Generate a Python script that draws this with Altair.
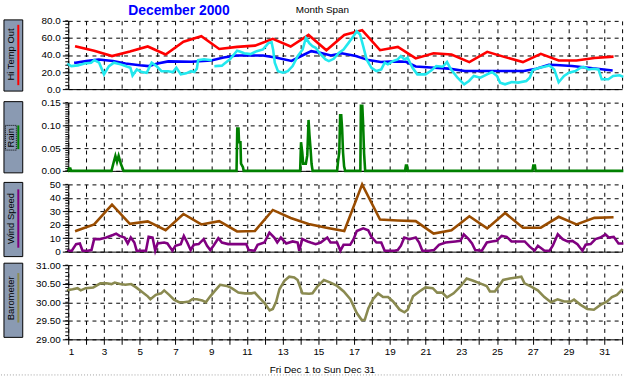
import altair as alt
import pandas as pd

FONT = "Liberation Sans"
W = 560

# ---------------- data ----------------
days_axis = list(range(1, 33))
day_mid = [d + 0.45 for d in range(1, 32)]

hi_temp = [50, 45, 38.7, 44, 50, 40.6, 55.5, 62, 47, 49.5, 51, 59, 50, 63.5, 45.6,
           63.5, 69, 45.6, 49.5, 36, 42, 40.5, 31.7, 43.7, 37.5, 31.7, 41.4, 33.6,
           33.6, 36.5, 38]

blue_day = [1.4, 2.0, 2.7, 3.5, 4.2, 5.0, 5.5, 6.0, 6.6, 7.9, 9.0, 9.7, 10.4, 11.9,
            12.6, 13.5, 14.1, 14.6, 15.1, 15.7, 16.3, 17.1, 17.8, 18.5, 19.3, 19.9,
            20.45, 21.5, 22.3, 23.2, 25.0, 26.5, 27.2, 27.9, 28.3, 29.2, 30.1, 31.4]
blue_val = [31, 32.8, 34.8, 33, 30, 28, 27, 30, 32.5, 32, 33.6, 37, 39.4, 39.4,
            37, 33, 39.4, 44.5, 42.5, 39.4, 42, 38.7, 34, 31.7, 32.5, 32,
            26.5, 25, 24, 21.2, 21.2, 21.2, 24, 28.5, 28.2, 27, 25, 22]

cyan1_day = [1.0, 1.17, 1.54, 1.91, 2.28, 2.46, 2.73, 3.0, 3.28, 3.56, 3.93, 4.2,
             4.48, 4.6, 4.84, 5.12, 5.39, 5.67, 5.94, 6.22, 6.59, 6.86, 7.05, 7.3,
             7.6, 7.87, 8.05, 8.2, 8.27, 8.6, 8.97]
cyan1_val = [29, 27, 27.8, 30, 31, 34, 31, 17.3, 27, 31, 29, 27,
             25, 16, 23, 20, 19.2, 31, 27, 21, 21, 20, 25, 17.3,
             18.5, 21, 20, 24, 34, 35, 34]
cyan2_day = [9.25, 9.6, 9.75, 10.05, 10.25, 10.45, 10.6, 10.85, 11.2, 11.55, 11.9,
             12.2, 12.38, 12.47, 12.56, 12.74, 13.02, 13.29, 13.56, 13.84, 14.12,
             14.3, 14.49, 14.67, 14.85, 15.13, 15.4, 15.59, 15.86, 16.14, 16.41,
             16.69, 16.96, 17.15, 17.33, 17.51, 17.7, 17.97, 18.25, 18.52, 18.71,
             18.89, 19.17, 19.44, 19.62, 19.81, 19.99, 20.27, 20.54, 21.0, 21.3,
             21.6, 21.96, 22.2, 22.42, 22.79, 23.16, 23.43, 23.7, 24.07, 24.44,
             24.72, 25.0, 25.17, 25.45, 25.82, 26.18, 26.64, 26.83, 27.0, 27.38,
             27.65, 27.93, 28.2, 28.45, 28.75, 29.03, 29.39, 29.67, 29.85, 30.13,
             30.4, 30.68, 30.86, 31.23, 31.5, 31.87, 32.0]
cyan2_val = [27, 27.5, 30, 35, 40, 45, 44, 42, 41, 44.5, 46.5,
             54, 55, 46, 31, 21, 19.2, 21, 27, 38.7, 46.4,
             60, 54, 50.3, 48.4, 40.6, 34.8, 32.8, 35.5, 42.5, 46.4,
             54.2, 62, 67.8, 64, 50.3, 34.8, 25, 21.2, 23.1, 31,
             29, 32.8, 34.8, 38.7, 34.8, 36.7, 25, 17.3, 17.3, 21.5,
             27, 26.2, 31.7, 23.1, 13.4, 5.6, 9.5, 15.4, 13.4, 17.3,
             20, 15.4, 7.6, 5.6, 8.3, 7.6, 9.5, 13.4, 22.3, 25,
             26.2, 27.8, 23.1, 8, 15.4, 19.2, 21.2, 25, 26.2, 23.1,
             23.9, 23.1, 11.5, 11.5, 15.4, 16.2, 15]

rain_day = [1.0, 1.03, 1.12, 1.16, 3.42, 3.55, 3.64, 3.73, 3.82, 3.95, 4.1,
            10.42, 10.46, 10.53, 10.56, 10.64, 10.67, 10.78, 10.82,
            13.98, 14.03, 14.1, 14.15, 14.3, 14.38, 14.45, 14.5, 14.56, 14.62, 14.68,
            16.05, 16.1, 16.17, 16.22, 16.28, 16.33, 16.38, 16.44, 16.5,
            17.35, 17.38, 17.46, 17.5, 17.56, 17.62,
            19.85, 19.9, 19.96, 20.0, 26.98, 27.03, 27.12, 27.16, 32.0]
rain_val = [0, 0.005, 0.005, 0, 0, 0.02, 0.033, 0.02, 0.033, 0.015, 0,
            0, 0.093, 0.093, 0.063, 0.063, 0.016, 0.008, 0,
            0, 0.063, 0.04, 0.016, 0.016, 0.034, 0.112, 0.08, 0.05, 0.015, 0,
            0, 0.02, 0.041, 0.122, 0.122, 0.093, 0.041, 0.01, 0,
            0, 0.143, 0.143, 0.108, 0.038, 0,
            0, 0.012, 0.012, 0, 0, 0.012, 0.012, 0, 0]

hi_wind = [15.5, 20.2, 35, 20.7, 22.5, 16, 28, 20.2, 22.7, 15, 15.4, 31, 25, 20.5,
           17.8, 15.4, 50, 23.9, 23.2, 22.7, 13.4, 15.9, 26.3, 17.3, 28.8, 17.8,
           17.8, 25.9, 20.2, 25.1, 25.6]

wind_day = [1.0, 1.2, 1.44, 1.65, 1.8, 2.1, 2.3, 2.45, 2.76, 3.13, 3.5, 3.68, 3.87,
            4.15, 4.33, 4.5, 4.7, 4.83, 5.35, 5.5, 5.72, 5.87, 6.0, 6.37, 6.55, 6.83,
            7.0, 7.3, 7.47, 7.66, 7.85, 8.03, 8.3, 8.58, 8.77, 8.95, 9.13, 9.4, 9.6,
            9.95, 10.5, 10.96, 11.1, 11.43, 11.6, 11.98, 12.26, 12.53, 12.7, 12.9,
            13.2, 13.56, 13.84, 13.93, 14.1, 14.4, 14.57, 14.85, 15.13, 15.5, 15.68,
            16.05, 16.23, 16.41, 16.78, 16.97, 17.15, 17.51, 17.79, 17.97, 18.25,
            18.52, 18.71, 19.26, 19.44, 19.62, 19.81, 20.1, 20.45, 20.64, 20.82,
            21.19, 21.47, 21.75, 22.12, 22.67, 22.95, 23.14, 23.41, 23.6, 23.78,
            24.15, 24.43, 24.71, 24.98, 25.26, 25.54, 25.81, 26.18, 26.55, 26.83,
            27.1, 27.29, 27.66, 27.94, 28.12, 28.4, 28.67, 28.95, 29.22, 29.5,
            29.78, 29.96, 30.24, 30.51, 30.79, 31.07, 31.25, 31.53, 31.8, 32.0]
wind_val = [0.7, 0.7, 5.6, 6.1, 0.7, 0.7, 1.2, 9.3, 9.3, 10.5, 12.4, 13.4, 11.7,
            10.5, 6.1, 10.5, 6.8, 0.7, 0.7, 11, 10.5, 0.7, 6.1, 6.8, 6.1, 0.7,
            4.4, 5.6, 11.7, 6.8, 1.2, 5.1, 5.6, 9.3, 4.4, 1.2, 4.4, 10, 6.8,
            5.6, 5.6, 5.6, 1.2, 0.7, 5.1, 6.8, 14.1, 10.5, 6.8, 10.5,
            6.1, 7.6, 6.8, 0.7, 9.3, 7.6, 6.8, 5.6, 6.8, 10.5, 6.8,
            6.8, 0.7, 5.1, 5.1, 9.3, 15.4, 17.3, 15.9, 11, 6.8,
            6.8, 0.7, 0.7, 1.2, 4.4, 10.5, 9.3, 10.5, 6.8, 0.7,
            0.7, 1.2, 5.1, 6.8, 7.6, 8, 12.9, 9.3, 6.1, 1.2,
            0.7, 6.8, 7.6, 8, 11.7, 11, 7.6, 7.6, 7.6, 3.7,
            0.7, 4.4, 0.7, 0.7, 4.4, 12.9, 9.3, 7.6, 8, 5.6,
            0.7, 5.1, 5.6, 9.3, 10.5, 12.9, 10.5, 11, 6.1, 6.1]

baro_day = [1.0, 1.25, 1.52, 1.7, 1.98, 2.4, 2.8, 3.14, 3.42, 3.6, 3.9, 4.2, 4.52,
            4.8, 5.1, 5.45, 5.6, 5.9, 6.2, 6.37, 6.65, 6.92, 7.2, 7.48, 7.75, 7.94,
            8.2, 8.5, 8.7, 8.95, 9.23, 9.5, 9.87, 10.15, 10.52, 10.89, 11.26, 11.44,
            11.72, 11.99, 12.27, 12.45, 12.64, 12.82, 13.1, 13.37, 13.65, 13.84,
            14.11, 14.48, 14.67, 14.94, 15.31, 15.68, 16.05, 16.42, 16.79, 17.15,
            17.43, 17.6, 17.8, 18.06, 18.34, 18.62, 18.9, 19.18, 19.55, 19.82, 20.0,
            20.3, 20.65, 21.0, 21.4, 21.65, 21.93, 22.2, 22.57, 22.94, 23.3, 23.67,
            24.05, 24.42, 24.6, 24.88, 25.07, 25.34, 25.71, 26.08, 26.36, 26.54,
            26.91, 27.28, 27.65, 28.02, 28.39, 28.76, 29.13, 29.31, 29.68, 30.05,
            30.42, 30.79, 31.16, 31.43, 31.71, 31.98]
baro_val = [30.33, 30.35, 30.38, 30.32, 30.38, 30.4, 30.51, 30.51, 30.49, 30.53,
            30.49, 30.47, 30.49, 30.4, 30.29, 30.16, 30.08, 30.2, 30.24, 30.32,
            30.2, 30.07, 30.0, 30.0, 30.02, 30.08, 30.08, 30.05, 30.0, 30.16,
            30.32, 30.47, 30.44, 30.38, 30.26, 30.24, 30.24, 30.26, 30.11, 29.98,
            29.78, 29.82, 30.02, 30.35, 30.58, 30.69, 30.67, 30.6, 30.24, 30.23,
            30.24, 30.42, 30.6, 30.53, 30.44, 30.29, 30.08, 29.71, 29.52, 29.53,
            29.84, 30.08, 30.24, 30.14, 30.14, 30.02, 29.8, 29.73, 29.8, 30.16,
            30.29, 30.4, 30.38, 30.26, 30.26, 30.13, 30.24, 30.42, 30.64, 30.58,
            30.51, 30.44, 30.29, 30.29, 30.42, 30.6, 30.64, 30.67, 30.69, 30.51,
            30.42, 30.32, 30.14, 30.0, 30.08, 30.02, 30.02, 30.07, 29.93, 29.82,
            29.8, 29.93, 30.02, 30.14, 30.2, 30.33]

temp_ticks = [0, 20, 40, 60, 80]
rain_ticks = [0, 0.05, 0.10, 0.15]
wind_ticks = [0, 10, 20, 30, 40, 50]
baro_ticks = [29.0, 29.5, 30.0, 30.5, 31.0]

temp_minor = [v * 4 for v in range(0, 21)]
rain_minor = [round(v * 0.005, 3) for v in range(0, 31)]
wind_minor = [v * 2 for v in range(0, 26)]
baro_minor = [round(29 + v * 0.1, 2) for v in range(0, 21)]

# ---------------- helpers ----------------
XSCALE = alt.Scale(domain=[1, 32], nice=False, zero=False)


def xaxis(bottom):
    kw = dict(values=days_axis, grid=True, gridColor="black", gridDash=[4, 4],
              gridOpacity=1, gridWidth=1, domain=True, domainColor="black",
              domainWidth=1, title=None, labels=bottom, ticks=bottom)
    if bottom:
        kw.update(tickColor="black", tickSize=5, labelFont=FONT, labelFontSize=10,
                  labelColor="black", labelPadding=2, labelAngle=0,
                  labelExpr="datum.value % 2 == 1 ? datum.label : ''")
    return alt.Axis(**kw)


def yaxis(vals, fmt):
    return alt.Axis(values=vals, format=fmt, grid=True, gridColor="black",
                    gridDash=[4, 4], gridOpacity=1, domainColor="black",
                    tickColor="black", tickSize=6, labelFont=FONT, labelFontSize=10,
                    labelColor="black", labelPadding=2, title=None)


def line(df, color, yscale, yax, xax, width=2.6, detail=None):
    enc = dict(x=alt.X("d:Q", scale=XSCALE, axis=xax),
               y=alt.Y("v:Q", scale=yscale, axis=yax))
    if detail:
        enc["detail"] = alt.Detail(detail + ":N")
    return alt.Chart(df).mark_line(color=color, strokeWidth=width,
                                   strokeJoin="miter", strokeCap="square").encode(**enc)


def minor(vals, yscale, yax):
    return alt.Chart(pd.DataFrame({"v": vals})).mark_rule(color="black").encode(
        y=alt.Y("v:Q", scale=yscale, axis=yax),
        x=alt.value(-3), x2=alt.value(0))


ONE = pd.DataFrame({"a": [0]})


def label_box(text, color, y0, y1, ty, ly0, ly1, focus=None):
    box = alt.Chart(ONE).mark_rect(fill="#8a9ab2", stroke="black", strokeWidth=1).encode(
        x=alt.value(-65), x2=alt.value(-46), y=alt.value(y0), y2=alt.value(y1))
    txt = alt.Chart(ONE).mark_text(text=text, angle=270, font=FONT, fontSize=9.5,
                                   color="black", align="center", baseline="middle").encode(
        x=alt.value(-58), y=alt.value(ty))
    bar = alt.Chart(ONE).mark_rule(color=color, strokeWidth=2).encode(
        x=alt.value(-50.5), y=alt.value(ly0), y2=alt.value(ly1))
    layers = [box, txt, bar]
    if focus:
        layers.append(alt.Chart(ONE).mark_rect(fill="transparent", stroke="black",
                                               strokeWidth=1, strokeDash=[1, 1]).encode(
            x=alt.value(-63.5), x2=alt.value(-52.5), y=alt.value(focus[0]), y2=alt.value(focus[1])))
    return layers


# ---------------- panels ----------------
ts = alt.Scale(domain=[0, 80], nice=False, zero=False)
df_hi = pd.DataFrame({"d": day_mid, "v": hi_temp})
df_blue = pd.DataFrame({"d": blue_day, "v": blue_val})
df_cyan = pd.concat([
    pd.DataFrame({"d": cyan1_day, "v": cyan1_val, "s": "a"}),
    pd.DataFrame({"d": cyan2_day, "v": cyan2_val, "s": "b"}),
])
ta = yaxis(temp_ticks, ".1f")
xa_top = xaxis(False)

title1 = alt.Chart(ONE).mark_text(text="December 2000", font=FONT, fontSize=14,
                                  fontWeight="bold", color="#0000ff", align="center",
                                  baseline="middle").encode(x=alt.value(112), y=alt.value(-10))
title2 = alt.Chart(ONE).mark_text(text="Month Span", font=FONT, fontSize=10,
                                  color="black", align="center", baseline="middle").encode(
    x=alt.value(257), y=alt.value(-11))

p1 = alt.layer(
    line(df_blue, "#0000ff", ts, ta, xa_top),
    line(df_hi, "#ff0000", ts, ta, xa_top),
    line(df_cyan, "#22e8ee", ts, ta, xa_top, detail="s"),
    minor(temp_minor, ts, ta),
    *label_box("Hi Temp Out", "#ff0000", -1, 71, 34, 4, 65),
    title1, title2,
).properties(width=W, height=69)

rs = alt.Scale(domain=[0, 0.15], nice=False, zero=False)
ra = yaxis(rain_ticks, ".2f")
df_rain = pd.DataFrame({"d": rain_day, "v": rain_val})
p2 = alt.layer(
    line(df_rain, "#008000", rs, ra, xa_top, width=2.6),
    minor(rain_minor, rs, ra),
    *label_box("Rain", "#008000", -1, 71, 35.5, 23, 47, focus=(23, 48)),
).properties(width=W, height=69)

ws = alt.Scale(domain=[0, 50], nice=False, zero=False)
df_hw = pd.DataFrame({"d": day_mid, "v": hi_wind})
df_w = pd.DataFrame({"d": wind_day, "v": wind_val})
wa = yaxis(wind_ticks, "d")
p3 = alt.layer(
    line(df_w, "#800080", ws, wa, xa_top),
    line(df_hw, "#994c00", ws, wa, xa_top),
    minor(wind_minor, ws, wa),
    *label_box("Wind Speed", "#800080", -2, 73, 34.5, 5, 64),
).properties(width=W, height=68)

bs = alt.Scale(domain=[29, 31], nice=False, zero=False)
ba = yaxis(baro_ticks, ".2f")
xa_bot = xaxis(True)
df_b = pd.DataFrame({"d": baro_day, "v": baro_val})
bottom_title = alt.Chart(ONE).mark_text(text="Fri Dec 1  to  Sun Dec 31", font=FONT,
                                        fontSize=10, color="black", align="center",
                                        baseline="middle").encode(x=alt.value(257), y=alt.value(106))
sep = alt.Chart(ONE).mark_rule(color="#a0a0a0", strokeDash=[1, 2]).encode(
    x=alt.value(-68), x2=alt.value(562), y=alt.value(111))
p4 = alt.layer(
    line(df_b, "#8a8a50", bs, ba, xa_bot),
    minor(baro_minor, bs, ba),
    *label_box("Barometer", "#8a8a50", -2, 73, 33.5, 8, 58),
    bottom_title, sep,
).properties(width=W, height=75)

chart = alt.vconcat(p1, p2, p3, p4, spacing=13.67, bounds="flush").configure_view(
    stroke="transparent").properties(
    padding={"left": 0, "top": 1, "right": 2, "bottom": 0}, background="white")

chart.save("out.html", embed_options={"renderer": "svg", "actions": False})
